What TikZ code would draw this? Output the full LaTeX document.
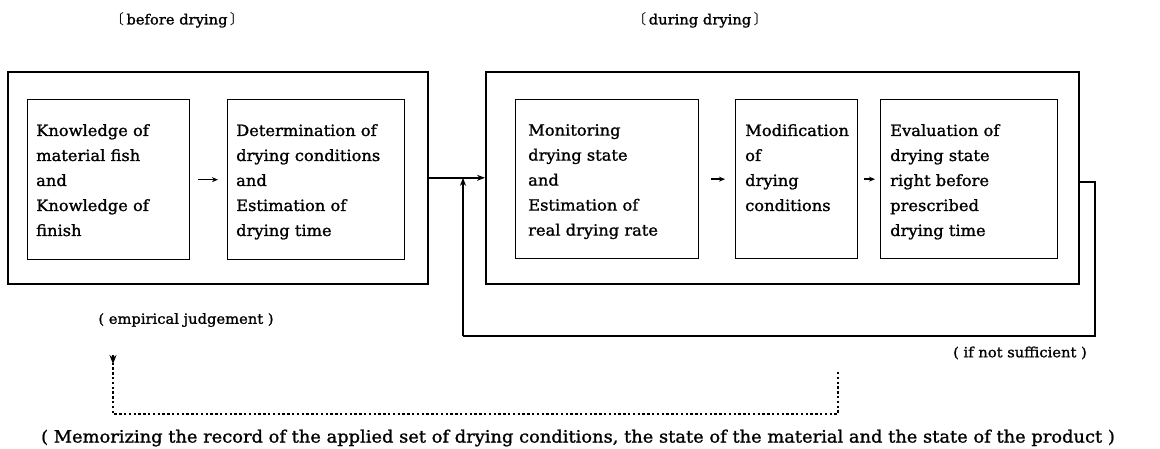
\documentclass[tikz,border=0pt]{standalone}
\usepackage{fontspec}
\usetikzlibrary{arrows.meta}
\newfontfamily\mainf[FakeStretch=1.05,FakeBold=1.3]{DejaVu Serif}
\newfontfamily\cjkf{Noto Sans CJK SC}
\tikzset{
  outerbox/.style={draw, line width=1.6pt, anchor=north west, inner sep=0pt},
  ibox/.style={draw, line width=1.3pt, anchor=north west, inner sep=0pt},
  txt/.style={anchor=north west, inner sep=0pt, align=left, font=\mainf\fontsize{15.5}{25}\selectfont},
  lbl/.style={inner sep=0pt, font=\mainf\fontsize{14}{18}\selectfont},
  arr/.style={-{Stealth[length=8pt,width=6pt]}, line width=1.5pt},
  sarr/.style={-{Stealth[length=6pt,width=5pt]}, line width=1.4pt},
  conn/.style={line width=1.5pt},
  dots/.style={line width=2.2pt, dash pattern=on 2.4pt off 2.4pt},
}
\begin{document}
\begin{tikzpicture}[x=1pt,y=-1pt]
\useasboundingbox (0,0) rectangle (1160,449);
% headings
\node[lbl] (hb) at (177,20) {{\cjkf 〔}\,before drying\,{\cjkf 〕}};
\node[lbl] (hd) at (700,20) {{\cjkf 〔}\,during drying\,{\cjkf 〕}};
% left group
\node[outerbox, minimum width=420pt, minimum height=212pt] (L) at (7,71) {};
\node[ibox, minimum width=162pt, minimum height=160pt] (k) at (27,99) {};
\node[ibox, minimum width=177pt, minimum height=160pt] (d) at (227,99) {};
\node[txt] (kt) at (36,124) {Knowledge of\\material fish\\and\\Knowledge of\\finish};
\node[txt] (dt) at (236,124) {Determination of\\drying conditions\\and\\Estimation of\\drying time};
\draw[sarr] ([xshift=8pt]k.east) -- ([xshift=-9pt]d.west);
% right group
\node[outerbox, minimum width=593pt, minimum height=212pt] (R) at (485,71) {};
\node[ibox, minimum width=183pt, minimum height=159pt] (m) at (515,99) {};
\node[ibox, minimum width=122pt, minimum height=159pt] (mo) at (735,99) {};
\node[ibox, minimum width=177pt, minimum height=159pt] (e) at (880,99) {};
\node[txt] (mt) at (528,124) {Monitoring\\drying state\\and\\Estimation of\\real drying rate};
\node[txt] (mot) at (745,124) {Modification\\of\\drying\\conditions};
\node[txt] (et) at (890,124) {Evaluation of\\drying state\\right before\\prescribed\\drying time};
\draw[sarr] ([xshift=12pt]m.east) -- ([xshift=-10pt]mo.west);
\draw[sarr] ([xshift=6pt]mo.east) -- ([xshift=-5pt]e.west);
% connection between groups
\draw[arr] (L.east) -- (R.west);
% feedback loop
\coordinate (f1) at (1095,336);
\coordinate (f2) at (463,336);
\draw[conn] ([yshift=-4pt]R.east) -| (f1) -- (f2);
\draw[arr] (f2) -- (f2 |- L.east);
% labels
\node[lbl] (ej) at (186,320) {( empirical judgement )};
\node[lbl] (ns) at (1020,353) {( if not sufficient )};
% dotted memory loop
\coordinate (d1) at (838,372);
\coordinate (d2) at (838,414);
\coordinate (d3) at (113,414);
\coordinate (d4) at (113,364);
\draw[dots] (d1) -- (d2) -- (d3) -- ([yshift=8pt]d4);
\draw[-{Stealth[length=9pt,width=7pt]}, line width=1.6pt] ([yshift=9pt]d4) -- (d4);
\node[lbl, font=\mainf\fontsize{17}{20}\selectfont] (mem) at (578,438) {( Memorizing the record of the applied set of drying conditions, the state of the material and the state of the product )};
\end{tikzpicture}
\end{document}
